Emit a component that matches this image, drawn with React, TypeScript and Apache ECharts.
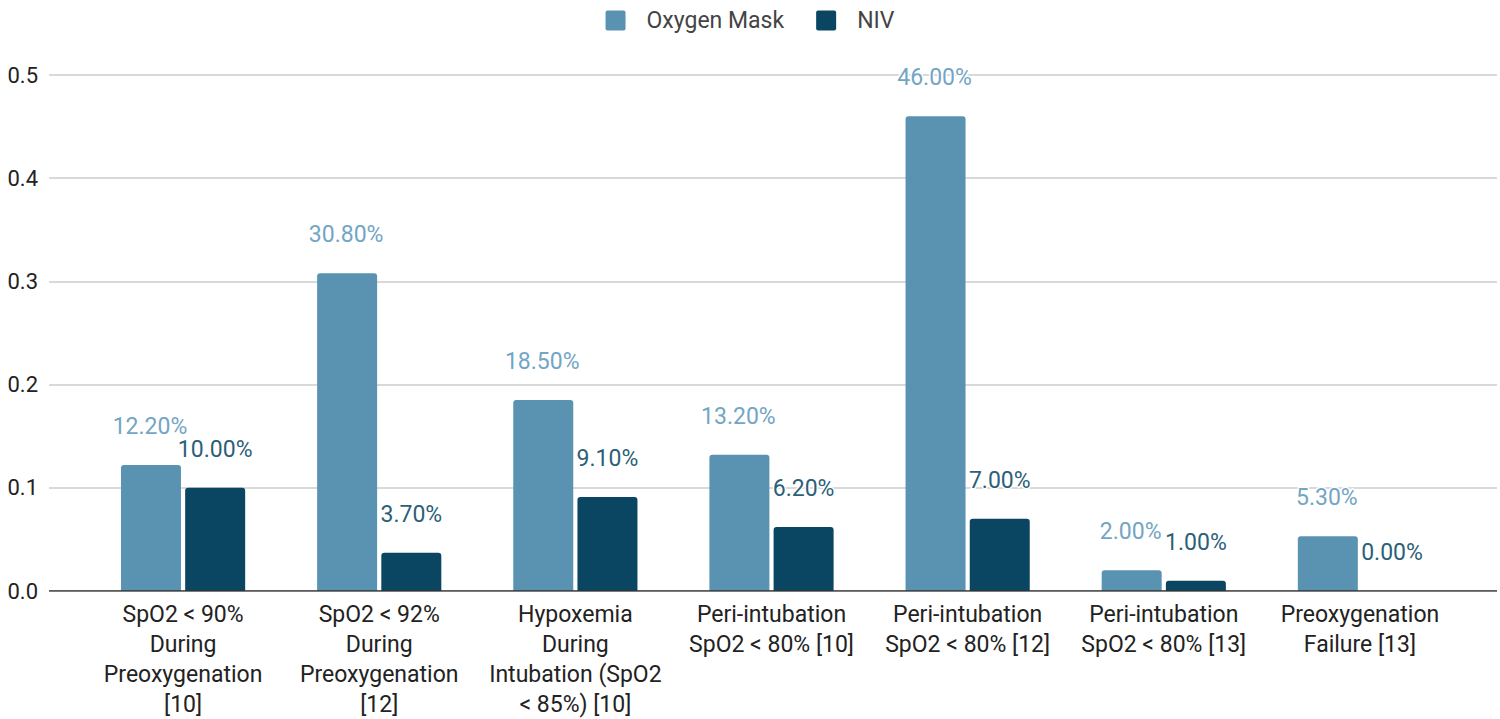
import React, { useEffect, useRef } from "react";
import * as echarts from "echarts";

const categories = [
  "SpO2 < 90%\nDuring\nPreoxygenation\n[10]",
  "SpO2 < 92%\nDuring\nPreoxygenation\n[12]",
  "Hypoxemia\nDuring\nIntubation (SpO2\n< 85%) [10]",
  "Peri-intubation\nSpO2 < 80% [10]",
  "Peri-intubation\nSpO2 < 80% [12]",
  "Peri-intubation\nSpO2 < 80% [13]",
  "Preoxygenation\nFailure [13]",
];
const oxygenMask = [0.122, 0.308, 0.185, 0.132, 0.46, 0.02, 0.053];
const niv = [0.1, 0.037, 0.091, 0.062, 0.07, 0.01, 0.0];
const seriesNames = ["Oxygen Mask", "NIV"];

const FONT = "Roboto, 'Liberation Sans', Arial, sans-serif";
const SQUARE_ICON = "path://M2,0 L18,0 Q20,0 20,2 L20,18 Q20,20 18,20 L2,20 Q0,20 0,18 L0,2 Q0,0 2,0 Z";

export default function App() {
  const ref = useRef<HTMLDivElement>(null);
  useEffect(() => {
    if (!ref.current) return;
    const chart = echarts.init(ref.current, undefined, { renderer: "svg" });
    const pct = (p: any) => (p.value * 100).toFixed(2) + "%";
    chart.setOption({
      animation: false,
      backgroundColor: "#ffffff",
      textStyle: { fontFamily: FONT },
      legend: {
        top: 4,
        left: "center",
        itemWidth: 20,
        itemHeight: 20,
        itemGap: 32,
        icon: SQUARE_ICON,
        data: seriesNames,
        textStyle: { fontSize: 23, color: "#444", fontFamily: FONT, padding: [0, 0, 0, 16] },
      },
      grid: [
        { left: 49, right: 3, top: 75, bottom: 128 },
        { left: 85, right: 42, top: 75, bottom: 128 },
      ],
      xAxis: [
        {
          gridIndex: 0,
          type: "value",
          min: 0,
          max: 1,
          show: true,
          axisLine: { show: false },
          axisTick: { show: false },
          axisLabel: { show: false },
          splitLine: { show: false },
        },
        {
          gridIndex: 1,
          type: "category",
          data: categories,
          axisLine: { show: false },
          axisTick: { show: false },
          axisLabel: {
            interval: 0,
            fontSize: 23,
            lineHeight: 30,
            color: "#222",
            margin: 8,
            fontFamily: FONT,
          },
        },
      ],
      yAxis: [
        {
          gridIndex: 0,
          type: "value",
          min: 0,
          max: 0.5,
          interval: 0.1,
          axisLine: { show: false },
          axisTick: { show: false },
          axisLabel: {
            fontSize: 22,
            color: "#222",
            margin: 11,
            fontFamily: FONT,
            formatter: (v: number) => v.toFixed(1),
          },
          splitLine: { lineStyle: { color: "#cccccc", width: 1.5 } },
        },
        {
          gridIndex: 1,
          type: "value",
          min: 0,
          max: 0.5,
          interval: 0.1,
          show: false,
          splitLine: { show: false },
        },
      ],
      series: [
        {
          name: "zero",
          type: "line",
          xAxisIndex: 0,
          yAxisIndex: 0,
          data: [[0, 0], [1, 0]],
          symbol: "none",
          lineStyle: { color: "#333", width: 1.5 },
          silent: true,
          z: 5,
        },
        {
          name: seriesNames[0],
          type: "bar",
          xAxisIndex: 1,
          yAxisIndex: 1,
          data: oxygenMask,
          barWidth: 60,
          barGap: "7%",
          itemStyle: { color: "#5a93b2", borderRadius: [3, 3, 0, 0] },
          label: {
            show: true,
            position: "top",
            distance: 27,
            offset: [-1, 0],
            formatter: pct,
            fontSize: 23,
            color: "#73a5c4",
            fontFamily: FONT,
            textBorderColor: "#fff",
            textBorderWidth: 3,
          },
          z: 3,
        },
        {
          name: seriesNames[1],
          type: "bar",
          xAxisIndex: 1,
          yAxisIndex: 1,
          data: niv,
          barWidth: 60,
          itemStyle: { color: "#0a4562", borderRadius: [3, 3, 0, 0] },
          label: {
            show: true,
            position: "top",
            distance: 27,
            formatter: pct,
            fontSize: 23,
            color: "#2c5f78",
            fontFamily: FONT,
            textBorderColor: "#fff",
            textBorderWidth: 3,
          },
          z: 3,
        },
      ],
    });
    return () => chart.dispose();
  }, []);
  return (
    <div
      ref={ref}
      style={{ position: "absolute", left: 0, top: 0, width: 1500, height: 719 }}
    />
  );
}
